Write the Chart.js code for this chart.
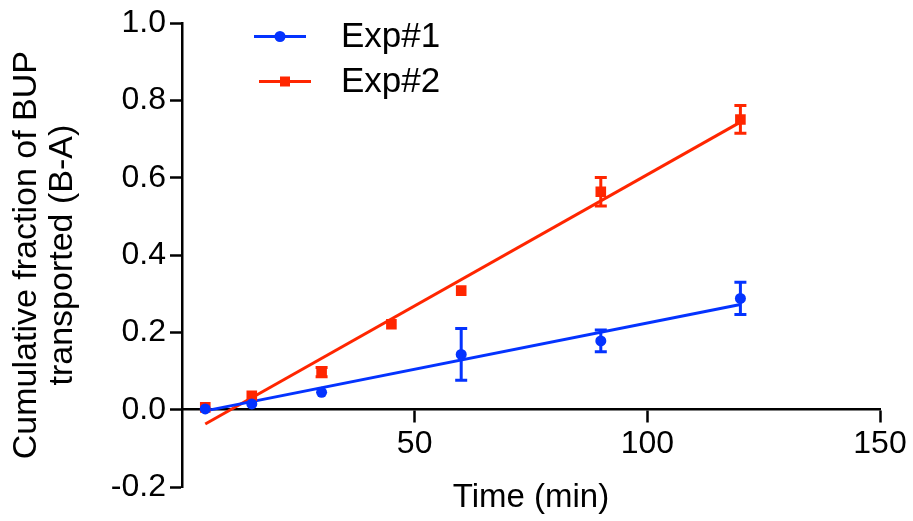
<!DOCTYPE html>
<html>
<head>
<meta charset="utf-8">
<script src="https://cdn.jsdelivr.net/npm/chart.js@4.4.1/dist/chart.umd.min.js"></script>
<style>
html,body{margin:0;padding:0;background:#fff;}
#wrap{width:913px;height:521px;}
</style>
</head>
<body>
<div id="wrap"><canvas id="c" width="913" height="521"></canvas></div>
<script>
// ---- data ----
const seriesLabels = ['Exp#1', 'Exp#2'];
const times1 = [5, 15, 30, 60, 90, 120];
const exp1Values = [0.002, 0.015, 0.045, 0.143, 0.178, 0.288];
const exp1Errors = [0, 0, 0, 0.067, 0.028, 0.042];
const times2 = [5, 15, 30, 45, 60, 90, 120];
const exp2Values = [0.006, 0.036, 0.097, 0.221, 0.308, 0.564, 0.751];
const exp2Errors = [0, 0, 0.012, 0, 0, 0.037, 0.036];
const fitTimes = [5, 120];
const exp1Fit = [-0.003, 0.272];
const exp2Fit = [-0.037, 0.744];
const xTickValues = [50, 100, 150];
const yTickValues = [-0.2, 0, 0.2, 0.4, 0.6, 0.8, 1.0];

const BLUE = '#0433FF';
const RED = '#FF2600';
const FONT = '"Liberation Sans", Arial, Helvetica, sans-serif';

const toPoints = (xs, ys) => xs.map((x, i) => ({x: x, y: ys[i]}));

const errorBarPlugin = {
  id: 'errorBars',
  afterDatasetsDraw(chart) {
    const {ctx, scales} = chart;
    const xs = scales.x, ys = scales.y;
    const sets = [
      {t: times2, v: exp2Values, e: exp2Errors, color: RED},
      {t: times1, v: exp1Values, e: exp1Errors, color: BLUE}
    ];
    ctx.save();
    ctx.lineWidth = 3;
    ctx.lineCap = 'butt';
    sets.forEach(s => {
      ctx.strokeStyle = s.color;
      s.t.forEach((t, i) => {
        const err = s.e[i];
        if (!err) return;
        const px = xs.getPixelForValue(t);
        const top = ys.getPixelForValue(s.v[i] + err);
        const bot = ys.getPixelForValue(s.v[i] - err);
        ctx.beginPath();
        ctx.moveTo(px, top); ctx.lineTo(px, bot);
        ctx.moveTo(px - 6, top); ctx.lineTo(px + 6, top);
        ctx.moveTo(px - 6, bot); ctx.lineTo(px + 6, bot);
        ctx.stroke();
      });
    });
    ctx.restore();
  }
};

const stackedLegendPlugin = {
  id: 'stackedLegend',
  afterDraw(chart) {
    const ctx = chart.ctx;
    const rows = [
      {label: seriesLabels[0], color: BLUE, shape: 'circle', x0: 254, x1: 306, y: 36.5},
      {label: seriesLabels[1], color: RED, shape: 'square', x0: 259, x1: 311, y: 81.5}
    ];
    ctx.save();
    rows.forEach(r => {
      ctx.strokeStyle = r.color;
      ctx.fillStyle = r.color;
      ctx.lineWidth = 3;
      ctx.beginPath();
      ctx.moveTo(r.x0, r.y); ctx.lineTo(r.x1, r.y);
      ctx.stroke();
      const cx = (r.x0 + r.x1) / 2;
      if (r.shape === 'circle') {
        ctx.beginPath(); ctx.arc(cx, r.y, 5.5, 0, Math.PI * 2); ctx.fill();
      } else {
        ctx.fillRect(cx - 5, r.y - 5, 10, 10);
      }
      ctx.fillStyle = '#000';
      ctx.font = '35px ' + FONT;
      ctx.textAlign = 'left';
      ctx.textBaseline = 'middle';
      ctx.fillText(r.label, 341, r.y + 1);
    });
    ctx.restore();
  }
};

new Chart(document.getElementById('c'), {
  type: 'scatter',
  data: {
    datasets: [
      {label: seriesLabels[0], data: toPoints(times1, exp1Values), showLine: false,
       pointStyle: 'circle', pointRadius: 5.5, pointBackgroundColor: BLUE, pointBorderColor: BLUE, pointBorderWidth: 0, order: 0},
      {label: seriesLabels[1], data: toPoints(times2, exp2Values), showLine: false,
       pointStyle: 'rect', pointRadius: 7.5, pointBackgroundColor: RED, pointBorderColor: RED, pointBorderWidth: 0, order: 1},
      {label: seriesLabels[0] + ' fit', data: toPoints(fitTimes, exp1Fit), showLine: true,
       borderColor: BLUE, borderWidth: 3, pointRadius: 0, fill: false, order: 2},
      {label: seriesLabels[1] + ' fit', data: toPoints(fitTimes, exp2Fit), showLine: true,
       borderColor: RED, borderWidth: 3, pointRadius: 0, fill: false, order: 3}
    ]
  },
  options: {
    responsive: false,
    animation: false,
    devicePixelRatio: 1,
    layout: {padding: {left: 0, top: 22, right: 33, bottom: 34}},
    plugins: {legend: {display: false}, tooltip: {enabled: false}},
    scales: {
      x: {
        type: 'linear',
        position: {y: 0},
        min: 0, max: 150,
        afterBuildTicks: s => { s.ticks = xTickValues.map(v => ({value: v})); },
        grid: {drawOnChartArea: false, drawTicks: true, tickLength: 12, tickWidth: 2.5, tickColor: '#000'},
        border: {display: true, color: '#000', width: 2.5},
        ticks: {color: '#000', font: {size: 32, family: FONT}, padding: 3, maxRotation: 0, autoSkip: false},
        title: {display: true, text: 'Time (min)', color: '#000', font: {size: 33, family: FONT}, padding: {top: 12, bottom: 0}}
      },
      y: {
        type: 'linear',
        position: 'left',
        min: -0.2, max: 1.0,
        afterBuildTicks: s => { s.ticks = yTickValues.map(v => ({value: v})); },
        afterFit: s => { s.width = 182; },
        grid: {drawOnChartArea: false, drawTicks: true, tickLength: 12, tickWidth: 2.5, tickColor: '#000'},
        border: {display: true, color: '#000', width: 2.5},
        ticks: {color: '#000', font: {size: 32, family: FONT}, padding: 4, autoSkip: false,
                callback: v => Number(v).toFixed(1)},
        title: {display: true, text: ['Cumulative fraction of BUP', 'transported (B-A)'], color: '#000',
                font: {size: 34, family: FONT, lineHeight: 1.06}, padding: {top: 9, bottom: 0}}
      }
    }
  },
  plugins: [errorBarPlugin, stackedLegendPlugin]
});
</script>
</body>
</html>
